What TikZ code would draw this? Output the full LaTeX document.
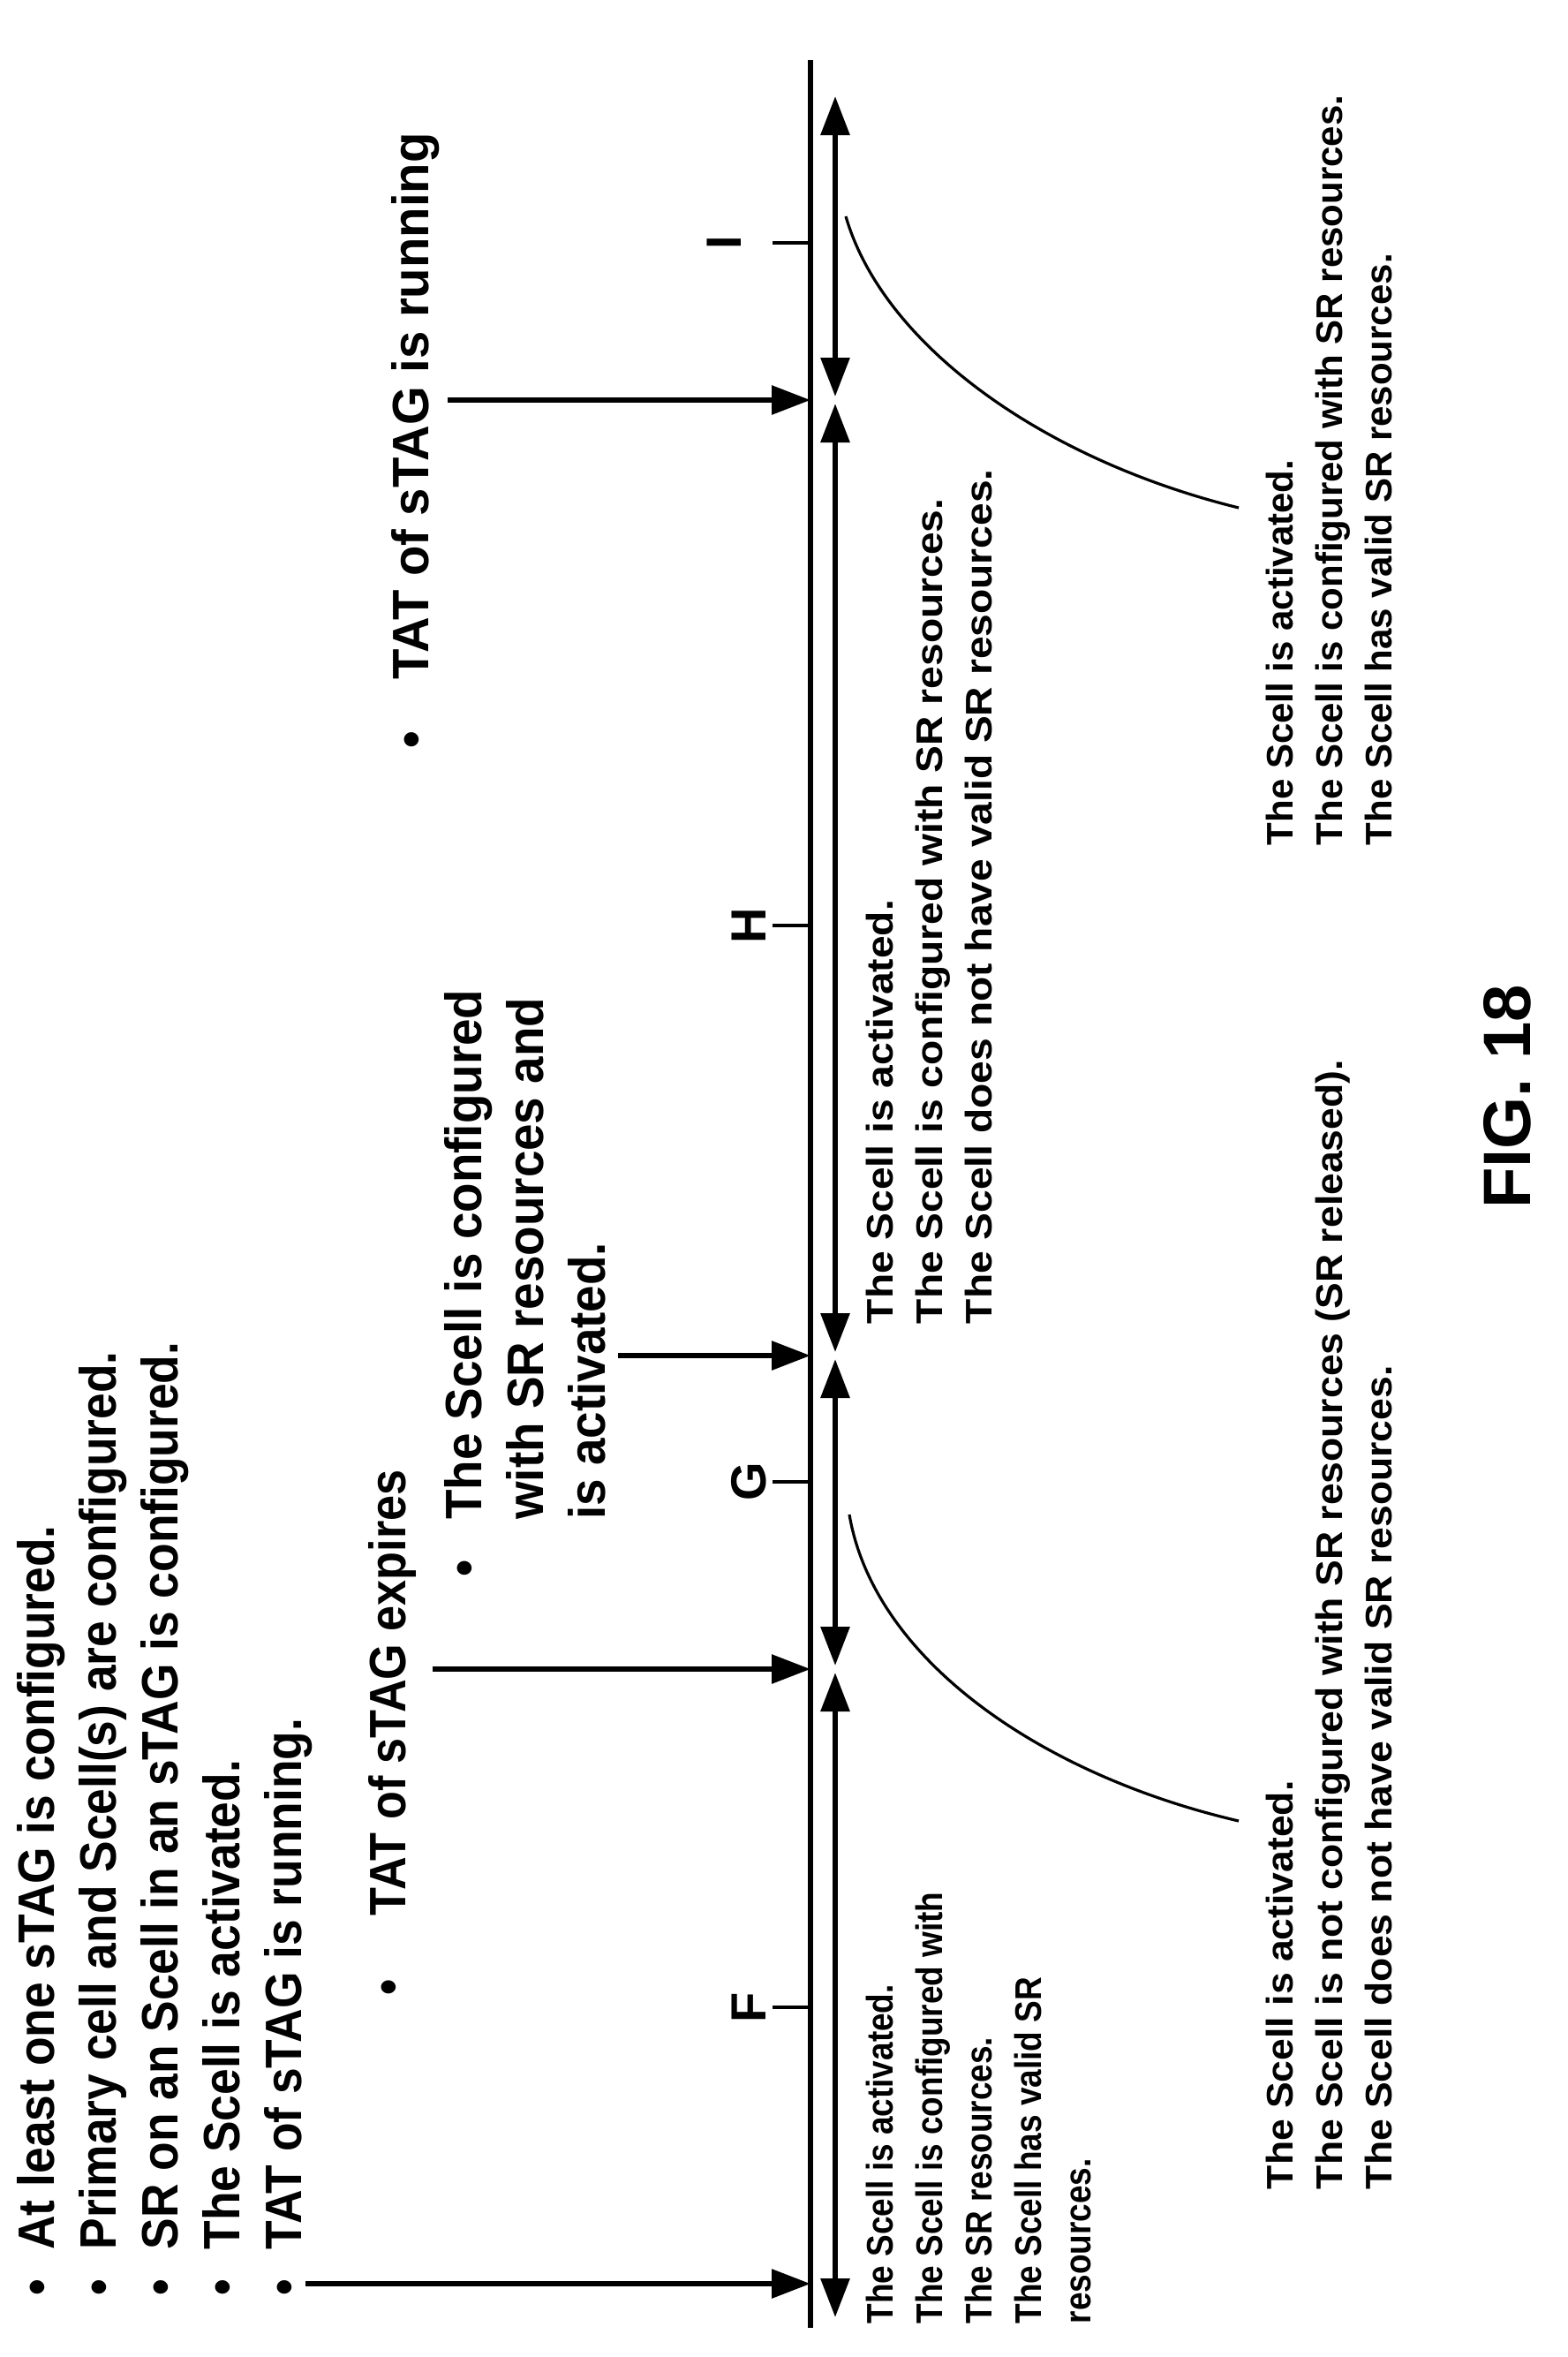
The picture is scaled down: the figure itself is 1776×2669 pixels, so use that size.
\documentclass[tikz,border=0pt]{standalone}
\usepackage{fontspec}
\setmainfont{Liberation Sans}
\usetikzlibrary{arrows.meta}
\begin{document}
\begin{tikzpicture}[x=0.25pt,y=0.25pt,
  tip/.style={-{Triangle[length=11pt,width=8pt]}},
  dtip/.style={{Triangle[length=11pt,width=8pt]}-{Triangle[length=11pt,width=8pt]}},
  thick/.style={line width=1.5pt},
  big/.style={rotate=90,anchor=north west,inner sep=0pt,align=left,font=\fontsize{14.5}{17.5}\selectfont\bfseries},
  small/.style={rotate=90,anchor=north west,inner sep=0pt,align=left,font=\fontsize{10.5}{14}\selectfont\bfseries},
  tick/.style={line width=1pt},
  lab/.style={rotate=90,inner sep=0pt,font=\fontsize{14}{16}\selectfont\bfseries},
  crv/.style={line width=0.8pt}]
\useasboundingbox (0,0) rectangle (1776,-2669);
% main time line
\coordinate (top) at (918,-68);
\coordinate (bot) at (918,-2636);
\draw[thick] (top) -- (bot);
% junctions
\coordinate (j0) at (946,-105);
\coordinate (j1) at (946,-453);
\coordinate (j2) at (946,-1535);
\coordinate (j3) at (946,-1890);
\coordinate (j4) at (946,-2628);
\draw[thick,dtip,shorten <=1pt,shorten >=1pt] (j1) -- (j0);
\draw[thick,dtip,shorten <=1pt,shorten >=1pt] (j2) -- (j1);
\draw[thick,dtip,shorten <=1pt,shorten >=1pt] (j3) -- (j2);
\draw[thick,dtip,shorten <=1pt,shorten >=1pt] (j4) -- (j3);
% incoming arrows
\coordinate (a1s) at (346,-2586); \coordinate (a1e) at (918,-2586);
\coordinate (a2s) at (490,-1890); \coordinate (a2e) at (918,-1890);
\coordinate (a3s) at (700,-1535); \coordinate (a3e) at (918,-1535);
\coordinate (a4s) at (507,-453); \coordinate (a4e) at (918,-453);
\draw[thick,tip] (a1s) -- (a1e);
\draw[thick,tip] (a2s) -- (a2e);
\draw[thick,tip] (a3s) -- (a3e);
\draw[thick,tip] (a4s) -- (a4e);
% ticks
\draw[tick] (875,-2273) -- (918,-2273); \node[lab] (F) at (848,-2273) {F};
\draw[tick] (875,-1678) -- (918,-1678); \node[lab] (G) at (848,-1678) {G};
\draw[tick] (875,-1048) -- (918,-1048); \node[lab] (H) at (848,-1048) {H};
\draw[tick] (875,-275) -- (918,-275); \node[lab] (I) at (820,-275) {I};
% curves
\draw[crv] (962,-1715) .. controls (990,-1880) and (1180,-2010) .. (1403,-2062);
\draw[crv] (958,-245) .. controls (1000,-390) and (1180,-520) .. (1403,-575);
% texts
\node[big,xscale=0.92] (b1) at (12,-2600) {\begin{tabular}{@{}l@{\hspace{9pt}}l@{}}
\textbullet & At least one sTAG is configured.\\
\textbullet & Primary cell and Scell(s) are configured.\\
\textbullet & SR on an Scell in an sTAG is configured.\\
\textbullet & The Scell is activated.\\
\textbullet & TAT of sTAG is running.\end{tabular}};
\node[big,xscale=0.9] (b2) at (410,-2260) {\begin{tabular}{@{}l@{\hspace{20pt}}l@{}}\textbullet & TAT of sTAG expires\end{tabular}};
\node[big,xscale=0.945] (b3) at (496,-1786) {\begin{tabular}{@{}l@{\hspace{12pt}}l@{}}\textbullet & The Scell is configured\\ & with SR resources and\\ & is activated.\end{tabular}};
\node[big,xscale=0.97] (b4) at (436,-848) {\begin{tabular}{@{}l@{\hspace{15pt}}l@{}}\textbullet & TAT of sTAG is running\end{tabular}};
\node[small,xscale=0.88] (tF) at (980,-2632) {The Scell is activated.\\The Scell is configured with\\The SR resources.\\The Scell has valid SR\\resources.};
\node[small,xscale=1.1] (tH) at (980,-1500) {The Scell is activated.\\The Scell is configured with SR resources.\\The Scell does not have valid SR resources.};
\node[small,xscale=1.06] (tG) at (1433,-2480) {The Scell is activated.\\The Scell is not configured with SR resources (SR released).\\The Scell does not have valid SR resources.};
\node[small] (tI) at (1433,-958) {The Scell is activated.\\The Scell is configured with SR resources.\\The Scell has valid SR resources.};
\node[rotate=90,inner sep=0pt,font=\fontsize{19}{22}\selectfont\bfseries] (fig) at (1707,-1242) {FIG. 18};
\end{tikzpicture}
\end{document}
